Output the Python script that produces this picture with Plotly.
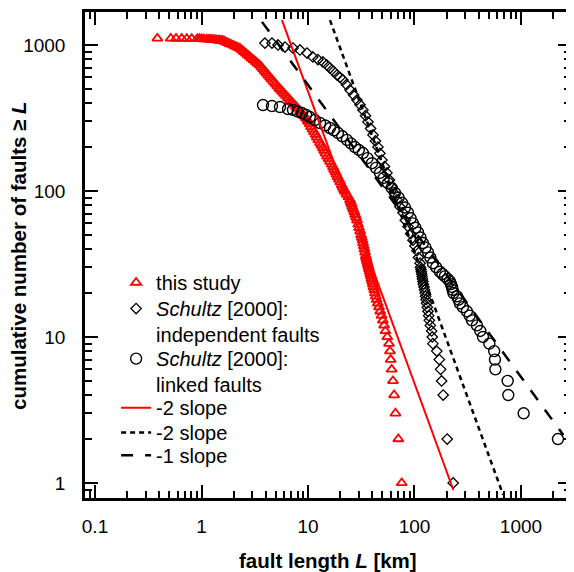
import plotly.graph_objects as go

# this study: fault length L [km] and cumulative number of faults >= L
study_length = [
    0.385, 0.514, 0.577, 0.652, 0.727, 0.809, 0.914, 0.96, 1.0, 1.05,
    1.12, 1.17, 1.22, 1.26, 1.30, 1.35, 1.39, 1.44, 1.48, 1.53,
    1.58, 1.63, 1.68, 1.75, 1.83, 1.92, 2.01, 2.10, 2.20, 2.30,
    2.40, 2.50, 2.61, 2.72, 2.84, 2.95, 3.08, 3.21, 3.35, 3.51,
    3.64, 3.79, 3.93, 4.08, 4.24, 4.40, 4.56, 4.75, 4.94, 5.13,
    5.35, 5.51, 5.73, 5.96, 6.21, 6.48, 6.77, 7.07, 7.38, 7.70,
    8.04, 8.41, 8.75, 9.12, 9.51, 9.89, 10.06, 10.4, 10.7, 11.05,
    11.4, 11.8, 12.1, 12.5, 13.0, 13.4, 13.8, 14.2, 14.6, 15.1,
    15.6, 16.1, 16.7, 17.2, 17.6, 18.1, 18.5, 19.0, 19.5, 20.1,
    20.7, 21.2, 21.8, 22.3, 23.0, 23.9, 24.8, 25.2, 25.7, 26.1,
    26.6, 27.2, 27.7, 28.3, 28.9, 29.6, 30.2, 30.9, 31.5, 32.0,
    32.5, 32.9, 33.4, 33.9, 34.4, 34.9, 35.2, 35.5, 35.9, 36.3,
    36.7, 37.1, 37.5, 38.0, 38.5, 38.96, 39.5, 40.0, 40.6, 41.2,
    41.9, 42.6, 43.3, 44.2, 45.3, 46.5, 47.7, 49.1, 50.5, 51.9,
    53.4, 55.5, 57.7, 58.9, 59.8, 61.1, 62.8, 64.4, 66.3, 70.5,
    75.9,
]
study_count = [
    1110, 1109, 1108, 1107, 1106, 1105, 1104, 1102, 1100, 1098,
    1096, 1093, 1090, 1088, 1085, 1083, 1080, 1078, 1075, 1073,
    1070, 1060, 1050, 1035, 1020, 1005, 990, 975, 960, 946,
    922, 899, 876, 854, 832, 811, 790, 770, 750, 730,
    706, 683, 661, 640, 620, 600, 581, 562, 543, 525,
    507, 495, 480, 465, 450, 435, 420, 406, 392, 379,
    366, 353, 341, 329, 317, 306, 299, 287, 275, 264,
    253, 243, 233, 223, 213, 205, 197, 189, 181, 173,
    166, 159, 152, 146, 140, 135, 130, 125, 120, 115,
    110, 106, 102, 99, 95, 91, 87, 84, 81, 78,
    75, 72, 69, 66, 63, 59, 56, 53, 50, 48,
    46, 44, 42, 40, 38, 36, 35, 34, 33, 32,
    31, 30, 29, 28, 27, 26, 25, 24, 23, 22,
    21, 20, 19, 18, 17, 16, 15, 14, 13, 12,
    11, 10, 9, 8, 7, 6, 5, 4, 3, 2,
    1,
]

# Schultz [2000]: independent faults
indep_length = [
    3.94, 4.59, 5.23, 6.08, 7.23, 8.41, 9.79, 11.1, 12.4, 13.8,
    15.0, 16.1, 17.4, 18.7, 20.0, 21.3, 23.0, 24.8, 26.8, 28.8,
    30.8, 32.8, 34.7, 36.6, 38.7, 40.8, 43.0, 45.4, 47.4, 49.5,
    52.3, 55.2, 58.3, 61.5, 65.0, 68.5, 73.0, 78.0, 82.0, 86.9,
    92.0, 96.8, 101, 105.5, 109, 113, 114, 115, 116, 117,
    118, 119, 120, 121, 123, 124.5, 126, 127, 128.5, 130,
    132, 134, 136, 138, 141, 145, 147, 149, 162, 171,
    176, 180, 186, 203, 231,
]
indep_count = [
    1030, 1030, 1000, 968, 953, 925, 881, 828, 795, 765,
    730, 695, 660, 623, 600, 576, 535, 492, 455, 420,
    390, 359, 328, 297, 268, 242, 220, 200, 181, 163,
    147, 133, 119, 106, 96, 87, 78, 71, 63, 57,
    51, 46, 42, 39, 35, 32, 30, 29, 28, 27,
    26, 25, 24, 23, 22, 21, 20, 19, 18, 17,
    16, 15, 14, 13, 12, 11, 10, 9, 8, 7,
    6, 5, 4, 2, 1,
]

# Schultz [2000]: linked faults
linked_length = [
    3.78, 4.59, 5.46, 6.49, 7.23, 8.0, 8.79, 9.6, 10.4, 11.6,
    13.0, 14.5, 16.1, 17.5, 19.1, 21.0, 23.2, 25.3, 27.6, 30.0,
    32.8, 36.2, 39.9, 43.5, 47.4, 51.5, 56.4, 61.0, 65.6, 71.0,
    76.4, 81.5, 86.9, 92.0, 96.8, 102, 108, 114, 120, 127,
    134, 141, 149, 160, 173, 183, 193, 205, 215, 220,
    225, 228, 232, 251, 260, 267, 285, 311, 330, 347,
    386, 415, 440, 505, 560, 570, 575, 750, 760, 1060,
    2225,
]
linked_count = [
    388, 382, 376, 364, 359, 350, 342, 332, 321, 306,
    292, 281, 270, 260, 250, 237, 224, 212, 200, 191,
    182, 168, 155, 144, 133, 123, 113, 105, 97, 90,
    83, 77, 71, 65, 60, 56, 52, 48, 44, 41,
    38, 35, 32, 30, 28, 27, 26, 25, 24, 23,
    22, 21, 20, 19, 18, 17, 16, 15, 14, 13,
    12, 11, 10, 9, 8, 7, 6, 5, 4, 3,
    2,
]

# reference slopes (end points)
red_slope_length = [5.7, 232]
red_slope_count = [1480, 0.895]
dot_slope_length = [16.1, 680]
dot_slope_count = [1480, 0.83]
dash_slope_length = [3.7, 2500]
dash_slope_count = [1440, 2.13]

x_tickvals = [0.1, 1, 10, 100, 1000]
x_ticktext = ["0.1", "1", "10", "100", "1000"]
y_tickvals = [1, 10, 100, 1000]
y_ticktext = ["1", "10", "100", "1000"]

FONT = "Liberation Sans, Arial, sans-serif"

fig = go.Figure()
fig.add_trace(go.Scatter(
    x=study_length, y=study_count, mode="markers", name="this study",
    legend="legend",
    marker=dict(symbol="triangle-up-open", size=9, color="#ff0000",
                line=dict(width=1.8, color="#ff0000")),
))
fig.add_trace(go.Scatter(
    x=indep_length, y=indep_count, mode="markers",
    name="<i>Schultz</i> [2000]:<br>independent faults",
    legend="legend2",
    marker=dict(symbol="diamond-open", size=8, color="black",
                line=dict(width=1.3, color="black")),
))
fig.add_trace(go.Scatter(
    x=linked_length, y=linked_count, mode="markers",
    name="<i>Schultz</i> [2000]:<br>linked faults",
    legend="legend3",
    marker=dict(symbol="circle-open", size=11, color="black",
                line=dict(width=1.4, color="black")),
))
fig.add_trace(go.Scatter(
    x=red_slope_length, y=red_slope_count, mode="lines", name="-2 slope",
    legend="legend4",
    line=dict(color="#ff0000", width=2),
))
fig.add_trace(go.Scatter(
    x=dot_slope_length, y=dot_slope_count, mode="lines", name="-2 slope",
    legend="legend5",
    line=dict(color="black", width=2.5, dash="5px,4px"),
))
fig.add_trace(go.Scatter(
    x=dash_slope_length, y=dash_slope_count, mode="lines", name="-1 slope",
    legend="legend6",
    line=dict(color="black", width=2.5, dash="12px,12px"),
))

axis_common = dict(
    type="log",
    tickmode="array",
    ticks="inside",
    ticklen=13,
    tickwidth=2,
    tickcolor="black",
    showline=True,
    linewidth=2.5,
    linecolor="black",
    mirror="ticks",
    showgrid=False,
    zeroline=False,
    automargin=False,
    tickfont=dict(family=FONT, size=19, color="black"),
    minor=dict(ticks="inside", ticklen=7, tickwidth=1.5, tickcolor="black",
               dtick="D1", showgrid=False),
)


def legend_box(y):
    return dict(
        x=0.064, y=y, xanchor="left", yanchor="top",
        bgcolor="rgba(0,0,0,0)", borderwidth=0,
        font=dict(family=FONT, size=20, color="black"),
        valign="top",
    )


fig.update_layout(
    width=566,
    height=564,
    margin=dict(l=77, r=3, t=4, b=74),
    paper_bgcolor="white",
    plot_bgcolor="white",
    font=dict(family=FONT, size=19, color="black"),
    showlegend=True,
    legend=legend_box(0.4835),
    legend2=legend_box(0.430),
    legend3=legend_box(0.327),
    legend4=legend_box(0.226),
    legend5=legend_box(0.175),
    legend6=legend_box(0.128),
    xaxis=dict(
        axis_common,
        range=[-1.094, 3.470],
        tickvals=x_tickvals, ticktext=x_ticktext,
        ticklabelstandoff=9,
    ),
    yaxis=dict(
        axis_common,
        range=[-0.103, 3.226],
        tickvals=y_tickvals, ticktext=y_ticktext,
        ticklabelstandoff=13,
    ),
    annotations=[
        dict(text="<b>fault length <i>L</i> [km]</b>", xref="paper", yref="paper",
             x=0.5, y=-0.1276, xanchor="center", yanchor="middle", showarrow=False,
             font=dict(family=FONT, size=20.5, color="black")),
        dict(text="<b>cumulative number of faults ≥ <i>L</i></b>", xref="paper", yref="paper",
             x=-0.1379, y=0.5, xanchor="center", yanchor="middle", showarrow=False,
             textangle=-90, font=dict(family=FONT, size=20.5, color="black")),
    ],
)

fig.write_html("out.html")
